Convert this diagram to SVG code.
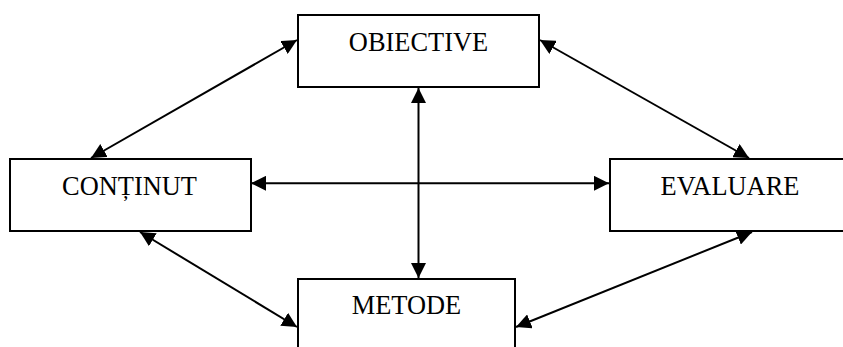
<svg xmlns="http://www.w3.org/2000/svg" width="843" height="347" viewBox="0 0 843 347">
<style>
.box{fill:#fff;stroke:#000;stroke-width:2}
.lbl{font-family:"Liberation Serif","Times New Roman",serif;font-size:26.4px;fill:#000;text-anchor:middle}
.con{stroke:#000;stroke-width:2;fill:none;marker-start:url(#ah);marker-end:url(#ah)}
</style>
<defs>
<marker id="ah" markerUnits="userSpaceOnUse" markerWidth="16" markerHeight="15" refX="15" refY="7.5" orient="auto-start-reverse">
<path d="M0,0 L15,7.5 L0,15 z" fill="#000"/>
</marker>
</defs>
<rect x="0" y="0" width="843" height="347" fill="#fff"/>
<g id="connectors">
<line class="con" x1="297" y1="40" x2="91" y2="158"/>
<line class="con" x1="540" y1="40" x2="749" y2="158"/>
<line class="con" x1="140" y1="232" x2="297" y2="327"/>
<line class="con" x1="752" y1="232" x2="516" y2="327"/>
<line class="con" x1="418.5" y1="88" x2="418.5" y2="278"/>
<line class="con" x1="251" y1="183.3" x2="609" y2="183.3"/>
</g>
<g id="obiective">
<rect class="box" x="298" y="15" width="241" height="72"/>
<text class="lbl" x="418.5" y="51">OBIECTIVE</text>
</g>
<g id="continut">
<rect class="box" x="10" y="159" width="241" height="72"/>
<text class="lbl" x="129.5" y="195">CONȚINUT</text>
</g>
<g id="evaluare">
<rect class="box" x="610" y="159" width="245" height="72"/>
<text class="lbl" x="730" y="195">EVALUARE</text>
</g>
<g id="metode">
<rect class="box" x="298" y="279" width="217" height="80"/>
<text class="lbl" x="406.5" y="314">METODE</text>
</g>
</svg>
